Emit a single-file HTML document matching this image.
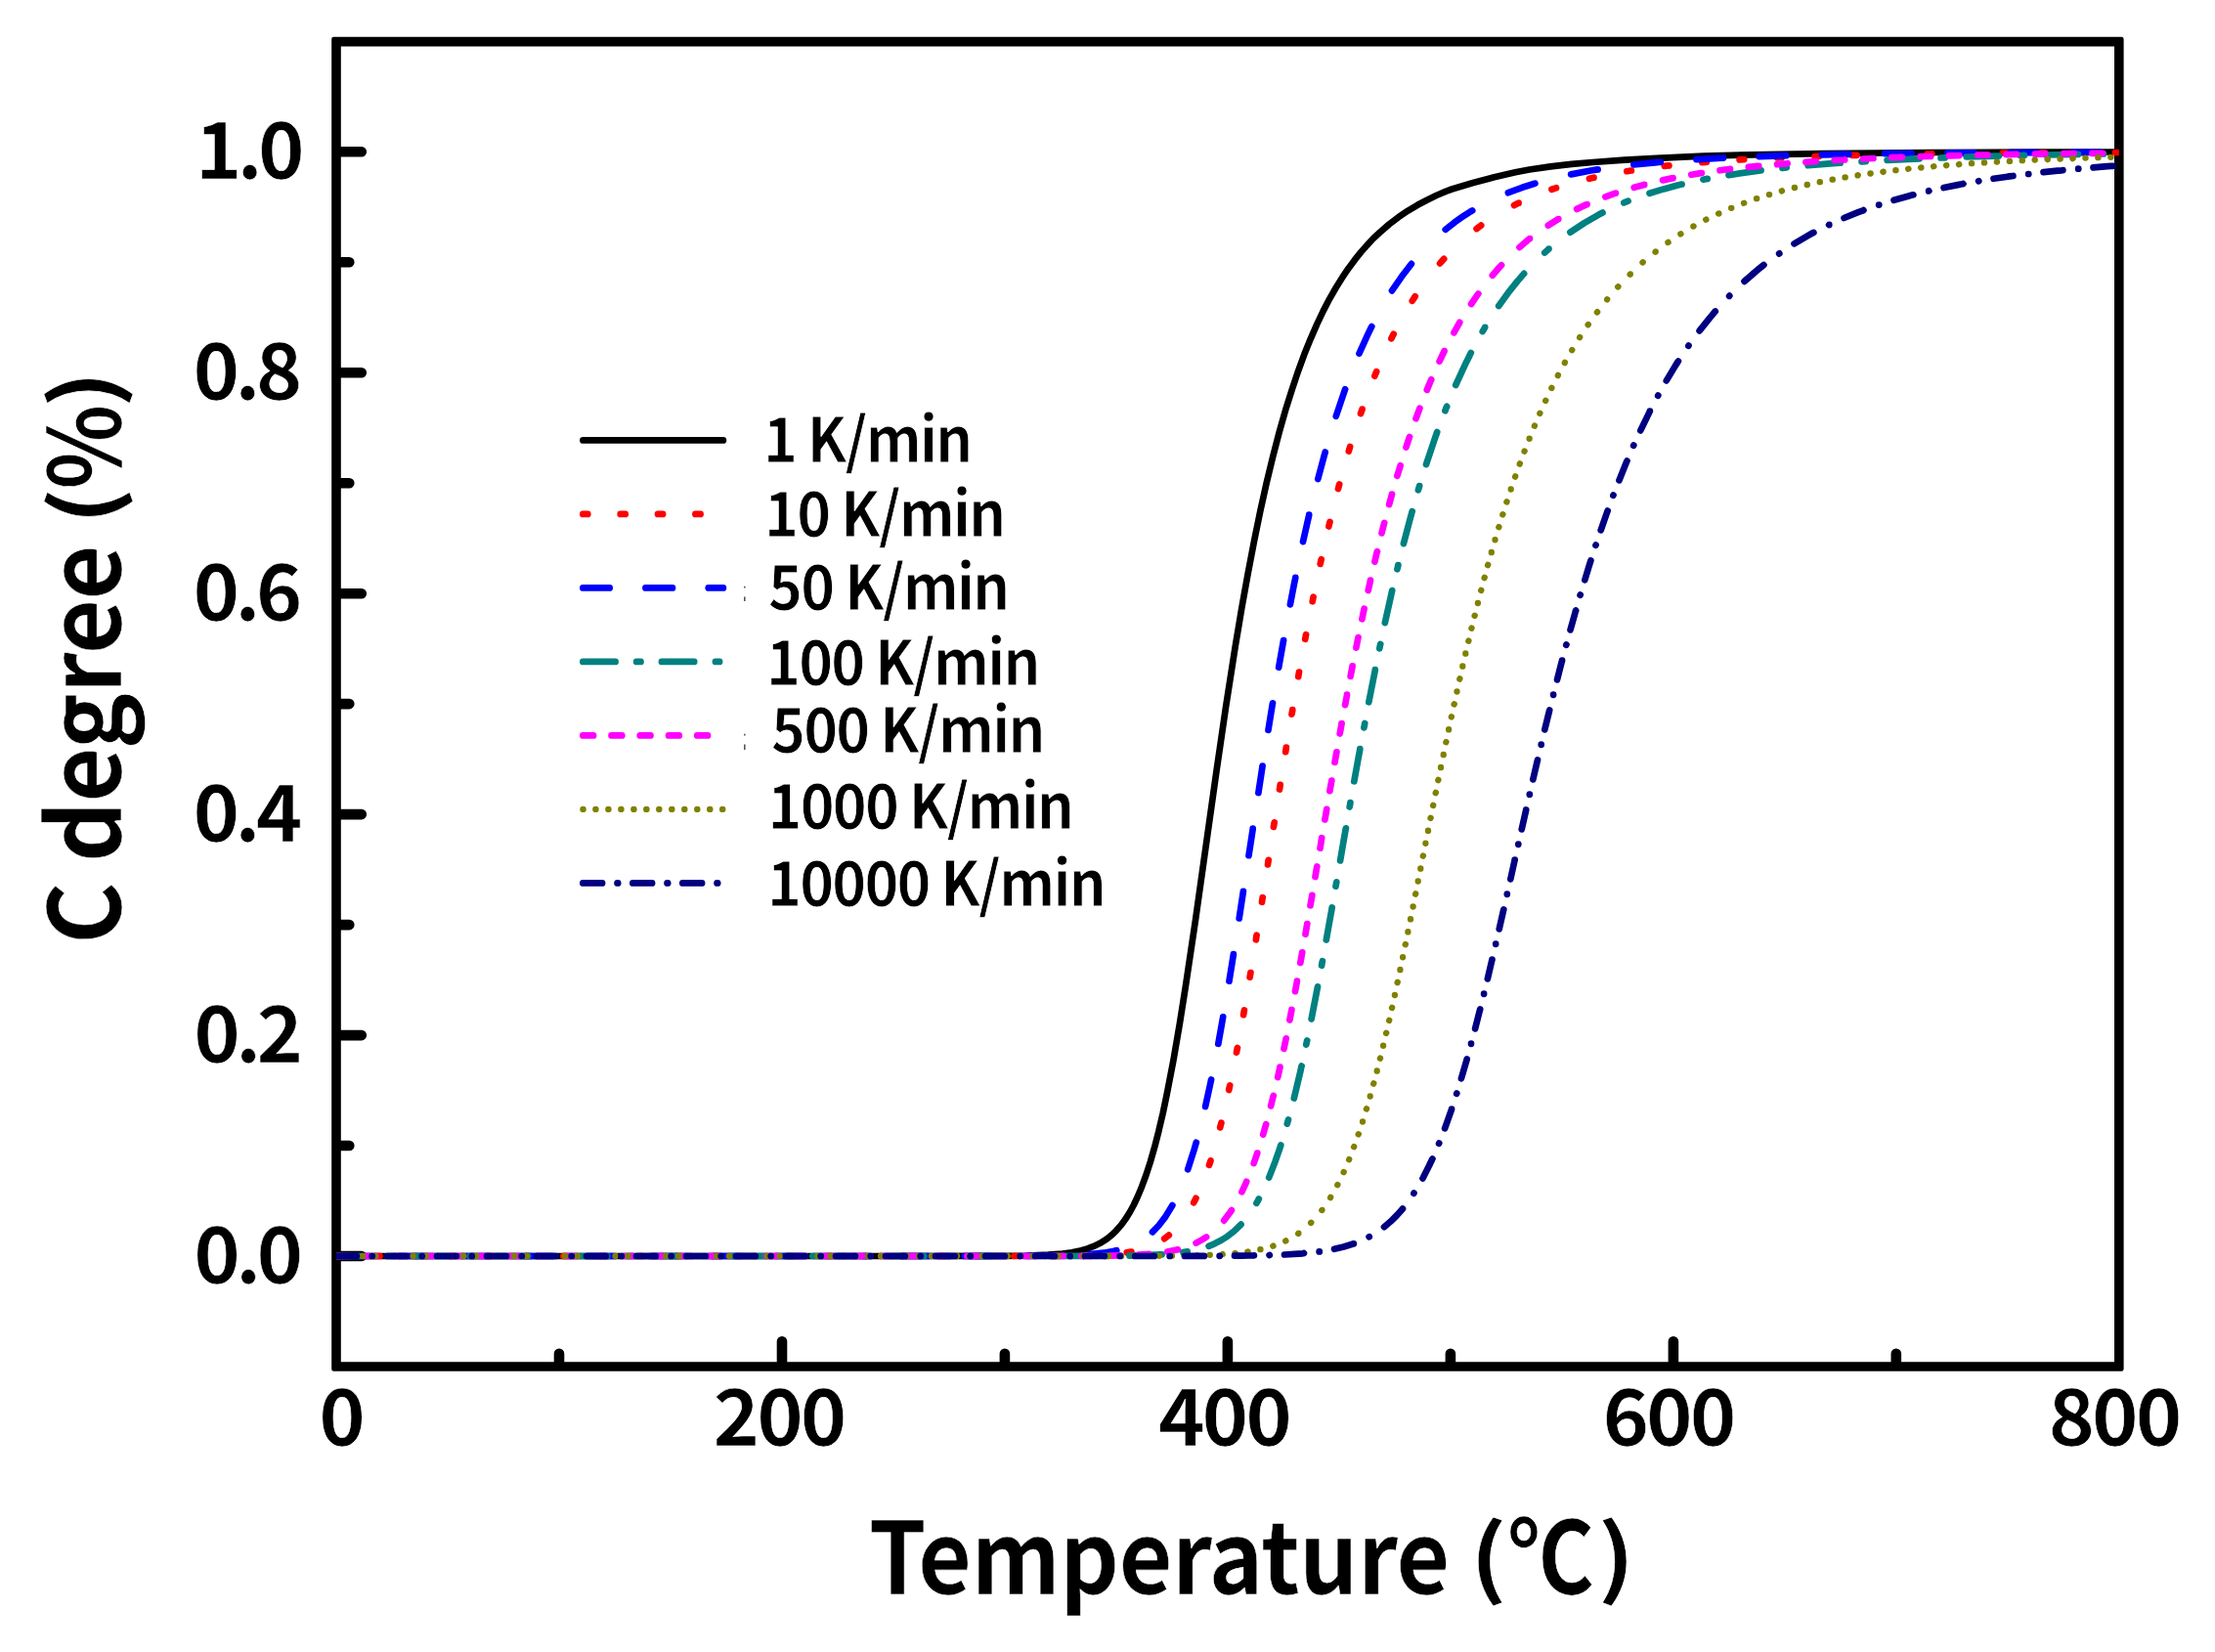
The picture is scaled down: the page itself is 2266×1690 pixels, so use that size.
<!DOCTYPE html>
<html lang="en"><head><meta charset="utf-8"><title>C degree vs Temperature</title>
<style>html,body{margin:0;padding:0;background:#fff}body{width:2266px;height:1690px;overflow:hidden}svg{display:block}text{font-family:"Noto Sans CJK SC", "Liberation Sans", sans-serif;font-weight:bold;fill:#000}</style></head><body>
<svg width="2266" height="1690" viewBox="0 0 2266 1690">
<rect width="2266" height="1690" fill="#fff"/>
<defs><clipPath id="plot"><rect x="344.0" y="42.6" width="1823.8" height="1355.4"/></clipPath></defs>
<path d="M341.4 37.8H2170.4Q2172.6 37.8 2172.6 40.0V1400.6Q2172.6 1402.8 2170.4 1402.8H341.4Q339.2 1402.8 339.2 1400.6V40.0Q339.2 37.8 341.4 37.8ZM348.8 47.4V1393.2H2163.0V47.4Z" fill="#000" fill-rule="evenodd"/>
<path d="M572.0 1396.0 V1384.7 M800.0 1396.0 V1372.2 M1027.9 1396.0 V1384.7 M1255.9 1396.0 V1372.2 M1483.9 1396.0 V1384.7 M1711.9 1396.0 V1372.2 M1939.8 1396.0 V1384.7 M346.0 1285.0 H369.8 M346.0 1172.0 H357.3 M346.0 1059.1 H369.8 M346.0 946.1 H357.3 M346.0 833.1 H369.8 M346.0 720.1 H357.3 M346.0 607.2 H369.8 M346.0 494.2 H357.3 M346.0 381.2 H369.8 M346.0 268.3 H357.3 M346.0 155.3 H369.8" fill="none" stroke="#000" stroke-width="10.6" stroke-linecap="round"/>
<g clip-path="url(#plot)" fill="none" stroke-width="6.7" stroke-linejoin="round" stroke-linecap="round">
<path d="M344.6 1285.0L884.9 1285.0L1029.2 1284.8L1050.8 1284.5L1072.4 1283.7L1086.8 1282.5L1096.5 1281.2L1106.1 1279.2L1112.5 1277.4L1118.9 1274.9L1125.4 1271.8L1129.7 1269.2L1133.9 1266.2L1138.2 1262.6L1142.5 1258.3L1146.8 1253.4L1151.1 1247.6L1155.4 1240.8L1159.7 1233.0L1163.9 1224.0L1168.2 1213.7L1172.5 1202.0L1176.8 1188.7L1181.1 1173.8L1185.4 1157.1L1189.7 1138.7L1193.9 1118.5L1200.4 1084.9L1206.8 1047.6L1213.2 1007.1L1222.9 942.0L1244.5 788.7L1254.1 723.1L1263.7 661.6L1270.1 623.2L1276.6 587.2L1283.0 553.6L1289.4 522.4L1295.8 493.5L1302.3 466.8L1308.7 442.2L1315.1 419.6L1321.6 398.9L1328.0 379.8L1334.4 362.3L1340.9 346.3L1347.3 331.6L1353.7 318.1L1360.1 305.8L1366.6 294.5L1373.0 284.2L1379.4 274.7L1385.9 265.9L1392.3 257.9L1398.7 250.6L1405.1 243.8L1411.6 237.7L1421.2 229.4L1430.8 222.1L1440.4 215.6L1450.1 209.8L1459.7 204.7L1469.3 200.0L1478.9 195.9L1485.3 193.5L1507.0 187.0L1528.6 181.3L1550.2 176.3L1564.6 173.5L1586.2 170.4L1607.8 167.9L1629.4 166.0L1661.8 163.7L1694.3 161.8L1742.9 159.7L1791.5 158.3L1864.4 157.1L1973.7 156.0L2083.0 155.6L2156.0 155.5L2165.6 155.5L2167.5 155.5L2168.4 155.5L2168.4 155.5" stroke="#000000"/>
<path d="M345.6 1285.0L350.2 1285.0M384.0 1285.0L387.8 1285.0L388.6 1285.0M422.5 1285.0L426.5 1285.0L427.1 1285.0M460.9 1285.0L465.3 1285.0L465.5 1285.0M499.3 1285.0L502.9 1285.0L503.9 1285.0M537.8 1285.0L541.7 1285.0L542.4 1285.0M576.2 1285.0L580.4 1285.0L580.8 1285.0M614.7 1285.0L619.2 1285.0L619.3 1285.0M653.1 1285.0L656.8 1285.0L657.7 1285.0M691.5 1285.0L695.5 1285.0L696.1 1285.0M730.0 1285.0L734.3 1285.0L734.6 1285.0M768.4 1285.0L771.9 1285.0L773.0 1285.0M806.8 1285.0L810.7 1285.0L811.4 1285.0M845.3 1285.0L849.4 1285.0L849.9 1285.0M883.7 1285.0L888.2 1285.0L888.3 1285.0M922.1 1285.0L925.8 1285.0L926.7 1285.0M960.6 1285.0L964.6 1285.0L965.2 1285.0M999.0 1285.0L1003.3 1285.0L1003.6 1285.0M1037.4 1285.0L1041.7 1285.0L1042.0 1285.0L1042.0 1285.0M1075.9 1284.9L1080.1 1284.9L1080.4 1284.8L1080.5 1284.8M1114.3 1284.3L1118.6 1284.1L1118.8 1284.1L1118.9 1284.1M1152.8 1281.2L1157.0 1280.5L1157.3 1280.5L1157.4 1280.5M1191.2 1267.1L1195.4 1263.9L1195.7 1263.7L1195.8 1263.6M1221.2 1230.3L1223.1 1226.6L1223.5 1225.7L1223.5 1225.7M1237.0 1191.9L1238.3 1188.1L1238.5 1187.3M1248.2 1153.4L1249.0 1150.2L1249.3 1149.1L1249.4 1148.8M1257.2 1115.0L1258.0 1111.1L1258.2 1110.4M1265.0 1076.6L1265.8 1072.2L1265.9 1072.0M1272.1 1038.1L1272.9 1033.5M1278.6 999.7L1279.2 996.2L1279.4 995.1L1279.4 995.1M1284.9 961.3L1285.4 957.7L1285.6 956.7M1291.0 922.8L1291.5 919.3L1291.7 918.2M1297.0 884.4L1297.5 880.7L1297.7 879.8M1302.9 845.9L1303.5 842.3L1303.7 841.3M1309.0 807.5L1309.6 803.8L1309.7 802.9M1315.2 769.1L1315.7 765.7L1315.9 764.6L1315.9 764.5M1321.5 730.6L1322.1 727.3L1322.3 726.3L1322.3 726.0M1328.2 692.2L1329.0 687.6M1335.2 653.8L1336.1 649.2L1336.1 649.2M1342.7 615.3L1343.5 611.2L1343.6 610.7M1350.7 576.9L1351.5 573.0L1351.7 572.3M1359.4 538.5L1360.2 535.0L1360.5 533.9M1369.0 500.0L1370.2 495.4M1379.8 461.6L1381.0 457.4L1381.1 457.0M1392.0 423.1L1393.3 419.5L1393.6 418.7L1393.6 418.5M1406.3 384.7L1408.2 380.1M1423.4 346.3L1425.3 342.5L1425.7 341.7M1444.8 307.8L1447.6 303.4L1447.7 303.2M1473.1 269.4L1475.9 266.2L1476.8 265.2L1477.1 264.9L1477.2 264.8M1510.6 234.0L1514.8 230.9L1515.1 230.7L1515.2 230.6M1549.0 210.0L1553.3 207.8L1553.5 207.7L1553.6 207.7M1587.4 193.8L1591.7 192.4L1592.0 192.3L1592.0 192.3M1625.9 182.8L1630.1 181.8L1630.4 181.7L1630.5 181.7M1664.3 175.2L1668.6 174.5L1668.9 174.5L1668.9 174.5M1702.8 169.9L1707.0 169.4L1707.3 169.4L1707.4 169.4M1741.2 166.1L1745.5 165.8L1745.7 165.7L1745.8 165.7M1779.6 163.4L1783.9 163.1L1784.2 163.1L1784.2 163.1M1818.1 161.4L1822.3 161.2L1822.6 161.2L1822.7 161.2M1856.5 160.0L1860.8 159.8L1861.0 159.8L1861.1 159.8M1894.9 158.9L1899.2 158.8L1899.5 158.8L1899.5 158.8M1933.4 158.1L1937.6 158.0L1937.9 158.0L1938.0 158.0M1971.8 157.5L1976.1 157.5L1976.4 157.4L1976.4 157.4M2010.2 157.0L2014.5 157.0L2014.8 157.0L2014.8 157.0M2048.7 156.7L2053.0 156.7L2053.2 156.7L2053.3 156.7M2087.1 156.4L2091.4 156.4L2091.7 156.4L2091.7 156.4M2125.6 156.2L2129.8 156.2L2130.1 156.2L2130.2 156.2M2164.0 156.0L2168.3 156.0L2168.5 156.0L2168.6 156.0" stroke="#ff0000"/>
<path d="M344.3 1285.0L364.8 1285.0L371.7 1285.0L371.8 1285.0M408.5 1285.0L429.8 1285.0L436.0 1285.0M472.7 1285.0L493.6 1285.0L500.2 1285.0M536.9 1285.0L557.5 1285.0L564.3 1285.0L564.4 1285.0M601.1 1285.0L622.4 1285.0L628.6 1285.0M665.3 1285.0L686.3 1285.0L692.8 1285.0M729.5 1285.0L750.1 1285.0L756.9 1285.0L757.0 1285.0M793.7 1285.0L815.1 1285.0L821.2 1285.0M857.9 1285.0L878.9 1285.0L885.4 1285.0M922.2 1285.0L942.7 1285.0L949.6 1285.0L949.7 1285.0M986.4 1285.0L1007.7 1285.0L1013.9 1285.0M1050.6 1284.9L1072.1 1284.7L1076.4 1284.7L1077.7 1284.6L1078.1 1284.6M1114.8 1283.2L1129.2 1281.7L1138.8 1280.0L1141.7 1279.4L1142.3 1279.2L1142.3 1279.2M1179.0 1260.4L1185.4 1253.7L1191.8 1245.4L1198.2 1235.1L1199.1 1233.5L1199.4 1233.0L1199.4 1233.0M1215.2 1196.3L1221.6 1176.2L1223.5 1169.6L1223.8 1168.8M1233.1 1132.0L1237.3 1112.9L1238.6 1106.9L1239.0 1104.9L1239.1 1104.5M1246.3 1067.8L1250.5 1044.3L1251.1 1040.9L1251.2 1040.3M1257.5 1003.6L1261.7 977.5L1261.9 976.4L1261.9 976.1M1267.7 939.4L1271.9 911.9M1277.5 875.2L1280.4 856.4L1281.7 848.0L1281.7 847.7M1287.4 811.0L1291.6 783.6L1291.6 783.5M1297.5 746.8L1301.7 720.7L1302.0 719.3M1308.2 682.6L1312.5 658.4L1313.1 655.1L1313.1 655.1M1319.9 618.4L1324.1 596.7L1325.0 592.4L1325.3 591.0L1325.3 590.9M1333.0 554.2L1337.3 535.2L1339.2 526.9L1339.2 526.7M1348.3 490.0L1354.7 466.1L1355.6 463.0L1355.7 462.5M1366.8 425.8L1373.2 406.7L1376.0 398.5L1376.1 398.3M1390.5 361.6L1400.1 340.4L1403.0 334.6L1403.3 334.1M1424.0 297.4L1433.7 283.3L1443.3 270.7L1443.9 269.9L1443.9 269.9M1478.7 234.8L1488.3 227.3L1497.9 220.6L1504.3 216.5L1506.2 215.4M1542.9 197.2L1557.3 191.8L1566.9 188.7L1569.8 187.8L1570.4 187.6L1570.4 187.6M1607.1 178.4L1628.7 174.3L1633.0 173.6L1634.3 173.4L1634.5 173.4L1634.6 173.4M1671.3 168.5L1692.9 166.3L1697.2 165.9L1698.5 165.8L1698.7 165.8L1698.8 165.8M1735.5 163.1L1757.1 161.9L1761.4 161.7L1762.7 161.6L1762.9 161.6L1763.0 161.6M1799.7 160.1L1821.3 159.4L1825.6 159.2L1826.9 159.2L1827.1 159.2L1827.2 159.2M1863.9 158.3L1885.5 157.9L1889.8 157.8L1891.1 157.8L1891.4 157.8M1928.1 157.2L1949.7 157.0L1954.0 156.9L1955.3 156.9L1955.6 156.9L1955.6 156.9M1992.3 156.6L2013.9 156.4L2018.2 156.4L2019.5 156.4L2019.8 156.4L2019.8 156.4M2056.6 156.2L2078.1 156.1L2082.4 156.0L2083.7 156.0L2084.0 156.0L2084.1 156.0M2120.8 155.9L2142.3 155.8L2146.6 155.8L2147.9 155.8L2148.2 155.8L2148.3 155.8" stroke="#0000ff"/>
<path d="M344.9 1285.0L375.7 1285.0L378.0 1285.0M399.8 1285.0L404.1 1285.0M426.0 1285.0L457.7 1285.0L459.1 1285.0M480.9 1285.0L485.1 1285.0L485.2 1285.0M507.0 1285.0L538.7 1285.0L540.1 1285.0M561.9 1285.0L566.0 1285.0L566.2 1285.0M588.1 1285.0L619.6 1285.0L621.2 1285.0M643.0 1285.0L647.0 1285.0L647.3 1285.0M669.1 1285.0L700.5 1285.0L702.2 1285.0M724.0 1285.0L727.9 1285.0L728.3 1285.0M750.2 1285.0L781.5 1285.0L783.3 1285.0M805.1 1285.0L808.8 1285.0L809.4 1285.0M831.3 1285.0L862.4 1285.0L864.4 1285.0M886.2 1285.0L889.8 1285.0L890.5 1285.0M912.3 1285.0L943.3 1285.0L945.4 1285.0M967.2 1285.0L970.7 1285.0L971.5 1285.0M993.4 1285.0L1024.3 1285.0L1026.5 1285.0M1048.3 1285.0L1052.5 1285.0L1052.6 1285.0M1074.4 1285.0L1106.8 1284.9L1107.4 1284.9L1107.5 1284.9M1129.3 1284.9L1133.6 1284.8L1133.6 1284.8M1155.5 1284.6L1177.1 1283.9L1186.7 1283.4L1188.6 1283.3M1210.4 1281.1L1214.7 1280.4L1214.7 1280.4M1236.6 1274.8L1243.0 1272.1L1249.4 1268.8L1255.8 1264.7L1262.3 1259.7L1268.7 1253.5L1269.6 1252.6M1285.4 1230.8L1287.3 1227.5L1287.8 1226.5M1298.2 1204.6L1304.6 1188.2L1308.9 1175.8L1310.2 1171.9L1310.3 1171.5M1316.8 1149.7L1318.0 1145.4M1323.8 1123.6L1330.2 1096.7L1331.4 1091.0L1331.6 1090.5M1336.3 1068.7L1337.1 1064.6L1337.2 1064.4M1341.6 1042.5L1348.0 1009.4M1352.1 987.6L1352.6 984.6L1352.8 983.6L1352.9 983.3M1356.8 961.5L1361.1 937.5L1362.4 930.3L1362.6 928.7L1362.7 928.4M1366.5 906.6L1367.1 903.2L1367.3 902.3M1371.1 880.4L1375.3 855.9L1376.6 848.6L1376.9 847.3M1380.7 825.5L1381.3 822.2L1381.4 821.2M1385.3 799.3L1389.6 775.6L1390.9 768.6L1391.3 766.4L1391.3 766.2M1395.4 744.4L1396.0 741.3L1396.1 740.3L1396.2 740.1M1400.3 718.3L1406.8 685.6L1406.8 685.2M1411.3 663.4L1412.1 659.3L1412.2 659.1M1416.8 637.2L1423.3 608.3L1424.1 604.5L1424.2 604.1M1429.4 582.3L1430.2 578.9L1430.4 578.1L1430.4 578.0M1435.9 556.2L1442.3 531.8L1444.2 524.8L1444.6 523.4L1444.7 523.1M1450.9 501.3L1452.2 497.1L1452.2 497.0M1459.0 475.1L1468.6 446.5L1469.9 443.0L1470.1 442.2L1470.2 442.0M1478.4 420.2L1479.6 417.0L1480.0 416.0L1480.1 415.9M1489.2 394.0L1498.8 373.1L1503.1 364.4L1504.3 361.9L1504.7 361.1L1504.8 360.9M1516.7 339.1L1518.6 335.9L1519.2 334.9L1519.2 334.8M1533.2 313.0L1542.8 299.7L1552.4 287.6L1558.9 280.1L1559.1 279.9M1580.2 258.5L1584.5 254.8L1584.5 254.7M1606.4 237.6L1620.8 228.1L1635.2 219.8L1639.5 217.6L1639.5 217.6M1661.3 207.4L1665.6 205.7L1665.6 205.7M1687.5 197.8L1701.9 193.4L1716.3 189.5L1720.5 188.5L1720.6 188.5M1742.4 183.7L1746.6 182.9L1746.7 182.9M1768.5 179.1L1800.9 174.4L1801.5 174.3L1801.6 174.3M1823.4 171.8L1827.7 171.3L1827.7 171.3M1849.6 169.2L1882.0 166.7L1882.5 166.7L1882.7 166.7M1904.5 165.3L1908.7 165.1L1908.8 165.1M1930.6 163.9L1963.0 162.4L1963.6 162.3L1963.7 162.3M1985.5 161.5L1989.8 161.3L1989.8 161.3M2011.7 160.5L2044.1 159.6L2044.7 159.6L2044.8 159.6M2066.6 159.0L2070.9 158.9L2070.9 158.9M2092.8 158.5L2125.2 157.9L2125.7 157.9L2125.9 157.9M2147.7 157.5L2151.9 157.5L2152.0 157.5" stroke="#008080"/>
<path d="M344.6 1285.0L353.7 1285.0L355.1 1285.0M373.9 1285.0L383.4 1285.0L384.4 1285.0M403.2 1285.0L413.0 1285.0L413.7 1285.0M432.5 1285.0L442.6 1285.0L443.0 1285.0M461.8 1285.0L471.1 1285.0L472.3 1285.0M491.1 1285.0L500.8 1285.0L501.6 1285.0M520.4 1285.0L530.4 1285.0L530.9 1285.0M549.7 1285.0L558.9 1285.0L560.2 1285.0M579.0 1285.0L588.5 1285.0L589.5 1285.0M608.3 1285.0L618.2 1285.0L618.8 1285.0M637.6 1285.0L647.8 1285.0L648.1 1285.0M666.9 1285.0L676.3 1285.0L677.4 1285.0M696.2 1285.0L705.9 1285.0L706.7 1285.0M725.5 1285.0L735.6 1285.0L736.0 1285.0M754.8 1285.0L764.1 1285.0L765.3 1285.0M784.1 1285.0L793.7 1285.0L794.6 1285.0M813.4 1285.0L823.3 1285.0L823.9 1285.0M842.7 1285.0L851.8 1285.0L853.2 1285.0M872.0 1285.0L881.5 1285.0L882.5 1285.0M901.3 1285.0L911.1 1285.0L911.8 1285.0M930.6 1285.0L940.8 1285.0L941.1 1285.0M959.9 1285.0L969.3 1285.0L970.4 1285.0M989.2 1285.0L998.9 1285.0L999.7 1285.0M1018.5 1285.0L1029.0 1285.0M1047.8 1285.0L1057.4 1285.0L1058.3 1285.0L1058.3 1285.0M1077.1 1285.0L1086.7 1284.9L1087.5 1284.9L1087.6 1284.9M1106.4 1284.9L1116.0 1284.8L1116.8 1284.8L1116.9 1284.8M1135.7 1284.6L1145.2 1284.3L1146.1 1284.3L1146.2 1284.3M1165.0 1283.6L1174.6 1282.9L1175.4 1282.8L1175.5 1282.8M1194.3 1280.5L1203.9 1278.5L1204.7 1278.3L1204.8 1278.3M1223.6 1271.6L1230.0 1268.1L1232.8 1266.3L1234.1 1265.5M1252.2 1248.6L1258.6 1240.0L1259.9 1238.1M1270.4 1219.3L1274.7 1210.1L1275.2 1208.8M1282.7 1190.0L1285.5 1181.9L1286.1 1180.1L1286.3 1179.6L1286.3 1179.5M1292.2 1160.7L1295.0 1150.7L1295.2 1150.2M1300.1 1131.4L1302.0 1123.8L1302.6 1121.4L1302.8 1120.9M1307.2 1102.1L1309.1 1093.6L1309.5 1091.7L1309.5 1091.6M1313.5 1072.8L1315.4 1063.6L1315.7 1062.3M1319.4 1043.5L1321.3 1033.7L1321.4 1033.0M1325.0 1014.2L1326.9 1004.0L1326.9 1003.7M1330.3 984.9L1332.2 974.4M1335.5 955.6L1336.7 948.4L1337.3 945.1M1340.5 926.3L1341.8 919.0L1342.2 916.6L1342.3 915.8M1345.5 897.0L1346.7 889.7L1347.1 887.3L1347.3 886.5M1350.5 867.7L1351.7 860.4L1352.1 857.9L1352.2 857.2M1355.4 838.4L1356.7 831.1L1357.2 827.9M1360.4 809.1L1361.7 801.9L1362.3 798.6M1365.5 779.8L1367.4 769.3M1370.7 750.5L1372.6 740.1L1372.6 740.0M1376.1 721.2L1378.0 711.2L1378.0 710.7M1381.6 691.9L1383.5 682.0L1383.6 681.4M1387.4 662.6L1389.2 653.3L1389.5 652.1M1393.4 633.3L1395.2 624.4L1395.5 623.1L1395.6 622.8M1399.7 604.0L1401.6 595.5L1402.0 593.6L1402.0 593.5M1406.4 574.7L1408.2 566.8L1408.8 564.3L1408.9 564.2M1413.5 545.4L1415.4 537.9L1416.0 535.6L1416.2 534.9M1421.1 516.1L1424.0 505.7L1424.0 505.6M1429.4 486.8L1432.3 477.4L1432.5 476.5L1432.6 476.3M1438.5 457.5L1441.3 448.9L1441.9 447.2L1442.0 447.0M1448.5 428.2L1451.4 420.5L1452.2 418.2L1452.4 417.7M1459.8 398.9L1464.0 388.7L1464.2 388.4M1472.6 369.6L1476.8 360.7L1477.4 359.5L1477.6 359.2L1477.6 359.1M1487.4 340.3L1491.7 332.7L1493.0 330.5L1493.3 329.8M1505.1 311.0L1511.5 301.7L1512.3 300.5M1526.8 281.7L1533.2 274.3L1535.1 272.2L1536.0 271.2L1536.0 271.2M1554.5 253.0L1564.0 244.8L1564.9 244.1L1565.0 244.1M1583.8 230.6L1593.4 224.6L1594.2 224.0L1594.3 224.0M1613.1 213.9L1622.7 209.4L1623.5 209.0L1623.6 209.0M1642.4 201.3L1651.9 197.9L1652.8 197.6L1652.9 197.6M1671.7 191.8L1681.3 189.2L1682.1 188.9L1682.2 188.9M1701.0 184.4L1710.5 182.4L1711.4 182.2L1711.5 182.2M1730.3 178.7L1739.9 177.1L1740.7 177.0L1740.8 177.0M1759.5 174.3L1769.1 173.0L1770.0 172.9L1770.0 172.9M1788.8 170.8L1798.4 169.8L1799.3 169.8L1799.3 169.8M1818.1 168.1L1827.8 167.3L1828.6 167.2L1828.6 167.2M1847.4 165.8L1857.0 165.2L1857.9 165.1L1857.9 165.1M1876.7 164.0L1886.3 163.5L1887.2 163.4L1887.2 163.4M1906.0 162.5L1915.6 162.0L1916.5 162.0L1916.5 162.0M1935.3 161.2L1944.9 160.9L1945.8 160.9L1945.8 160.8M1964.6 160.2L1974.3 159.9L1975.1 159.9L1975.1 159.9M1993.9 159.4L2003.5 159.1L2004.4 159.1L2004.4 159.1M2023.2 158.7L2032.8 158.5L2033.7 158.5L2033.7 158.5M2052.5 158.1L2062.1 157.9L2063.0 157.9L2063.0 157.9M2081.8 157.6L2091.4 157.4L2092.3 157.4L2092.3 157.4M2111.1 157.2L2120.8 157.1L2121.6 157.1L2121.6 157.1M2140.4 156.9L2150.0 156.8L2150.9 156.8L2150.9 156.8" stroke="#ff00ff"/>
<path d="M344.8 1285.0L345.0 1285.0M357.7 1285.0L357.9 1285.0M370.7 1285.0L370.9 1285.0M383.6 1285.0L383.8 1285.0M396.6 1285.0L396.8 1285.0M409.5 1285.0L409.7 1285.0M422.4 1285.0L422.6 1285.0M435.4 1285.0L435.6 1285.0M448.3 1285.0L448.5 1285.0M461.3 1285.0L461.5 1285.0M474.2 1285.0L474.4 1285.0M487.1 1285.0L487.3 1285.0M500.1 1285.0L500.3 1285.0M513.0 1285.0L513.2 1285.0M525.9 1285.0L526.1 1285.0M538.9 1285.0L539.1 1285.0M551.8 1285.0L552.0 1285.0M564.8 1285.0L565.0 1285.0M577.7 1285.0L577.9 1285.0M590.6 1285.0L590.8 1285.0M603.6 1285.0L603.8 1285.0M616.5 1285.0L616.7 1285.0M629.5 1285.0L629.7 1285.0M642.4 1285.0L642.6 1285.0M655.3 1285.0L655.5 1285.0M668.3 1285.0L668.5 1285.0M681.2 1285.0L681.4 1285.0M694.2 1285.0L694.4 1285.0M707.1 1285.0L707.3 1285.0M720.0 1285.0L720.2 1285.0M733.0 1285.0L733.2 1285.0M745.9 1285.0L746.1 1285.0M758.8 1285.0L759.0 1285.0M771.8 1285.0L772.0 1285.0M784.7 1285.0L784.9 1285.0M797.7 1285.0L797.9 1285.0M810.6 1285.0L810.8 1285.0M823.5 1285.0L823.7 1285.0M836.5 1285.0L836.7 1285.0M849.4 1285.0L849.6 1285.0M862.4 1285.0L862.6 1285.0M875.3 1285.0L875.5 1285.0M888.2 1285.0L888.4 1285.0M901.2 1285.0L901.4 1285.0M914.1 1285.0L914.3 1285.0M927.1 1285.0L927.3 1285.0M940.0 1285.0L940.2 1285.0M952.9 1285.0L953.1 1285.0M965.9 1285.0L966.1 1285.0M978.8 1285.0L979.0 1285.0M991.8 1285.0L992.0 1285.0M1004.7 1285.0L1004.9 1285.0M1017.6 1285.0L1017.8 1285.0M1030.6 1285.0L1030.7 1285.0L1030.8 1285.0M1043.5 1285.0L1043.7 1285.0L1043.7 1285.0M1056.4 1285.0L1056.6 1285.0M1069.4 1285.0L1069.6 1285.0M1082.3 1285.0L1082.5 1285.0L1082.5 1285.0M1095.3 1285.0L1095.4 1285.0L1095.5 1285.0M1108.2 1285.0L1108.4 1285.0L1108.4 1285.0M1121.1 1285.0L1121.3 1285.0M1134.1 1285.0L1134.3 1285.0M1147.0 1285.0L1147.2 1285.0L1147.2 1285.0M1160.0 1284.9L1160.1 1284.9L1160.2 1284.9M1172.9 1284.9L1173.1 1284.9M1185.8 1284.8L1186.0 1284.8M1198.8 1284.7L1198.9 1284.7L1199.0 1284.7M1211.7 1284.5L1211.9 1284.5L1211.9 1284.5M1224.7 1284.3L1224.8 1284.3L1224.9 1284.3M1237.6 1283.8L1237.8 1283.8M1250.5 1283.2L1250.7 1283.1M1263.5 1282.1L1263.6 1282.1L1263.7 1282.1M1276.4 1280.6L1276.6 1280.5L1276.6 1280.5M1289.3 1278.2L1289.5 1278.2L1289.5 1278.1M1302.3 1274.7L1302.5 1274.6M1315.2 1269.5L1315.4 1269.4L1315.4 1269.4M1328.2 1261.9L1328.3 1261.7L1328.4 1261.7M1341.1 1251.0L1341.3 1250.8L1341.3 1250.8M1352.3 1238.0L1352.4 1237.8L1352.5 1237.8M1361.1 1225.1L1361.2 1224.9M1368.3 1212.2L1368.4 1212.0M1374.6 1199.2L1374.7 1199.0M1380.1 1186.3L1380.2 1186.1M1385.1 1173.3L1385.2 1173.1M1389.7 1160.4L1389.8 1160.2M1394.0 1147.5L1394.0 1147.3M1397.9 1134.5L1398.0 1134.3M1401.7 1121.6L1401.7 1121.4M1405.2 1108.6L1405.3 1108.4M1408.7 1095.7L1408.7 1095.5M1411.9 1082.8L1412.0 1082.6M1415.1 1069.8L1415.1 1069.6M1418.1 1056.9L1418.2 1056.7M1421.1 1044.0L1421.2 1043.8M1424.0 1031.0L1424.1 1030.8M1426.9 1018.1L1426.9 1017.9M1429.6 1005.1L1429.7 1004.9M1432.4 992.2L1432.4 992.0M1435.1 979.3L1435.1 979.1M1437.7 966.3L1437.8 966.1M1440.4 953.4L1440.4 953.2M1443.0 940.4L1443.0 940.2M1445.6 927.5L1445.6 927.3M1448.1 914.6L1448.2 914.4M1450.7 901.6L1450.7 901.4M1453.3 888.7L1453.3 888.5M1455.8 875.7L1455.9 875.5M1458.4 862.8L1458.4 862.6M1461.0 849.9L1461.0 849.7M1463.5 836.9L1463.6 836.7M1466.1 824.0L1466.2 823.8M1468.7 811.1L1468.8 810.9M1471.3 798.1L1471.4 797.9M1474.0 785.2L1474.0 785.0M1476.7 772.2L1476.7 772.0M1479.3 759.3L1479.4 759.1M1482.1 746.4L1482.1 746.2M1484.8 733.4L1484.9 733.2M1487.6 720.5L1487.7 720.3M1490.5 707.5L1490.5 707.3M1493.3 694.6L1493.4 694.4M1496.3 681.7L1496.3 681.5M1499.3 668.7L1499.3 668.5M1502.3 655.8L1502.4 655.6M1505.4 642.8L1505.5 642.6M1508.6 629.9L1508.7 629.7M1511.9 617.0L1511.9 616.8M1515.2 604.0L1515.3 603.8M1518.6 591.1L1518.7 590.9M1522.1 578.1L1522.2 577.9M1525.8 565.2L1525.8 565.0M1529.5 552.3L1529.5 552.1M1533.3 539.3L1533.4 539.1M1537.3 526.4L1537.4 526.2M1541.4 513.5L1541.5 513.3M1545.7 500.5L1545.7 500.3M1550.1 487.6L1550.2 487.4M1554.7 474.6L1554.8 474.4M1559.5 461.7L1559.6 461.5M1564.6 448.8L1564.6 448.6M1569.8 435.8L1569.9 435.6M1575.3 422.9L1575.4 422.7M1581.2 409.9L1581.3 409.7M1587.3 397.0L1587.4 396.8M1593.8 384.1L1593.9 383.9M1600.8 371.1L1600.9 370.9M1608.2 358.2L1608.3 358.0M1616.1 345.2L1616.2 345.0M1624.6 332.3L1624.8 332.1M1633.9 319.4L1634.1 319.2M1644.1 306.4L1644.2 306.2L1644.2 306.2M1655.2 293.5L1655.4 293.3L1655.4 293.3M1667.6 280.6L1667.7 280.4L1667.8 280.4M1680.5 268.5L1680.7 268.3L1680.7 268.3M1693.5 257.7L1693.6 257.5L1693.7 257.5M1706.4 248.0L1706.6 247.9M1719.3 239.4L1719.5 239.3M1732.3 231.6L1732.4 231.6L1732.5 231.5M1745.2 224.7L1745.4 224.6L1745.4 224.6M1758.2 218.5L1758.3 218.4L1758.4 218.4M1771.1 212.8L1771.3 212.8M1784.0 207.8L1784.2 207.7L1784.2 207.7M1797.0 203.2L1797.1 203.2L1797.2 203.2M1809.9 199.1L1810.1 199.1L1810.1 199.1M1822.8 195.4L1823.0 195.3M1835.8 192.0L1836.0 192.0M1848.7 189.0L1848.9 189.0L1848.9 188.9M1861.7 186.2L1861.8 186.2L1861.9 186.2M1874.6 183.7L1874.8 183.7L1874.8 183.7M1887.5 181.4L1887.7 181.4M1900.5 179.4L1900.6 179.4L1900.7 179.3M1913.4 177.5L1913.6 177.5L1913.6 177.5M1926.4 175.8L1926.5 175.7L1926.6 175.7M1939.3 174.2L1939.5 174.2M1952.2 172.8L1952.4 172.7M1965.2 171.5L1965.3 171.4L1965.4 171.4M1978.1 170.3L1978.3 170.2L1978.3 170.2M1991.1 169.2L1991.2 169.1L1991.3 169.1M2004.0 168.2L2004.2 168.1M2016.9 167.2L2017.1 167.2M2029.9 166.4L2030.0 166.4L2030.1 166.4M2042.8 165.6L2043.0 165.6L2043.0 165.6M2055.8 164.9L2056.0 164.9M2068.7 164.2L2068.9 164.2M2081.6 163.6L2081.8 163.6L2081.8 163.6M2094.6 163.1L2094.7 163.0L2094.8 163.0M2107.5 162.5L2107.7 162.5L2107.7 162.5M2120.4 162.1L2120.6 162.0M2133.4 161.6L2133.6 161.6M2146.3 161.2L2146.5 161.2L2146.5 161.2M2159.3 160.8L2159.4 160.8L2159.5 160.8" stroke="#808000" stroke-width="6.3"/>
<path d="M345.0 1285.0L364.9 1285.0M380.6 1285.0L380.8 1285.0M396.0 1285.0L415.9 1285.0M431.6 1285.0L431.8 1285.0M447.0 1285.0L461.3 1285.0L465.8 1285.0L466.9 1285.0M482.6 1285.0L482.8 1285.0M498.0 1285.0L512.6 1285.0L517.1 1285.0L517.9 1285.0M533.6 1285.0L533.8 1285.0M549.0 1285.0L568.9 1285.0M584.6 1285.0L584.8 1285.0M600.0 1285.0L619.9 1285.0M635.6 1285.0L635.8 1285.0M651.0 1285.0L665.3 1285.0L669.9 1285.0L670.9 1285.0M686.6 1285.0L686.8 1285.0M702.0 1285.0L716.6 1285.0L721.2 1285.0L721.9 1285.0M737.6 1285.0L737.8 1285.0M753.0 1285.0L772.9 1285.0M788.6 1285.0L788.8 1285.0M804.0 1285.0L823.9 1285.0M839.6 1285.0L839.8 1285.0M855.0 1285.0L869.3 1285.0L873.9 1285.0L874.9 1285.0M890.6 1285.0L890.8 1285.0M906.0 1285.0L920.6 1285.0L925.2 1285.0L925.9 1285.0M941.6 1285.0L941.8 1285.0M957.0 1285.0L976.9 1285.0M992.6 1285.0L992.8 1285.0M1008.0 1285.0L1027.9 1285.0M1043.6 1285.0L1043.8 1285.0M1059.0 1285.0L1073.4 1285.0L1077.7 1285.0L1078.9 1285.0M1094.6 1285.0L1094.8 1285.0L1094.8 1285.0M1110.0 1285.0L1124.4 1285.0L1128.7 1285.0L1129.6 1285.0L1129.8 1285.0L1129.9 1285.0M1145.6 1285.0L1145.8 1285.0M1161.0 1285.0L1175.4 1285.0L1179.7 1285.0L1180.9 1285.0M1196.6 1285.0L1196.8 1285.0L1196.8 1285.0M1212.0 1284.9L1226.4 1284.9L1230.7 1284.9L1231.5 1284.9L1231.8 1284.9L1231.9 1284.9M1247.6 1284.8L1247.8 1284.8L1247.8 1284.8M1263.0 1284.7L1277.4 1284.5L1281.7 1284.5L1282.9 1284.4M1298.6 1284.1L1298.8 1284.0L1298.8 1284.0M1314.0 1283.5L1328.4 1282.6L1332.7 1282.3L1333.5 1282.2L1333.8 1282.2L1333.9 1282.1M1349.6 1280.4L1349.8 1280.4L1349.8 1280.4M1365.0 1277.8L1374.6 1275.5L1384.2 1272.5L1384.8 1272.3L1384.9 1272.3M1400.6 1265.3L1400.8 1265.2M1416.0 1255.2L1422.4 1249.8L1428.8 1243.5L1433.1 1238.7L1434.4 1237.2L1435.0 1236.5M1446.4 1220.8L1446.5 1220.6M1455.5 1205.4L1461.9 1192.8L1464.8 1186.7L1465.2 1185.8L1465.4 1185.5M1472.1 1169.8L1472.2 1169.6M1478.1 1154.4L1484.5 1136.3L1485.1 1134.6L1485.1 1134.5M1490.2 1118.8L1490.3 1118.6M1494.9 1103.4L1499.2 1088.7L1500.5 1084.2L1500.7 1083.5L1500.7 1083.5M1505.0 1067.8L1505.0 1067.6M1509.1 1052.4L1513.3 1035.8L1514.2 1032.5M1518.1 1016.8L1518.1 1016.6M1521.8 1001.4L1526.0 983.5L1526.5 981.7L1526.5 981.5M1530.2 965.8L1530.2 965.6M1533.7 950.4L1538.0 931.6L1538.3 930.5M1541.8 914.8L1541.8 914.6M1545.3 899.4L1549.5 880.4L1549.7 879.6L1549.7 879.5M1553.3 863.8L1553.3 863.6M1556.7 848.4L1561.0 829.6L1561.2 828.5M1564.8 812.8L1564.8 812.6M1568.3 797.4L1572.6 779.0L1572.9 777.8L1573.0 777.5M1576.7 761.8L1576.7 761.6M1580.3 746.4L1584.6 728.9L1585.2 726.5M1589.1 710.8L1589.1 710.6M1593.0 695.4L1597.2 678.9L1598.1 675.6L1598.1 675.5M1602.3 659.8L1602.4 659.6M1606.5 644.4L1610.8 629.1L1612.0 624.6L1612.1 624.5M1616.6 608.8L1616.7 608.6M1621.3 593.4L1625.5 579.5L1627.4 573.5M1632.5 557.8L1632.6 557.6M1637.7 542.4L1644.1 524.0L1644.7 522.5M1650.4 506.8L1650.5 506.6M1656.4 491.4L1662.8 475.5L1664.1 472.4L1664.5 471.5M1671.2 455.8L1671.3 455.6M1678.3 440.4L1687.9 420.6L1687.9 420.5M1696.2 404.8L1696.3 404.6M1704.8 389.4L1714.4 373.4L1716.3 370.4L1716.9 369.5L1716.9 369.5M1727.4 353.8L1727.5 353.6M1738.6 338.4L1748.2 326.3L1754.6 318.6L1754.8 318.5M1769.1 302.8L1769.3 302.6L1769.3 302.6M1784.5 287.9L1798.9 275.4L1803.2 272.0L1804.0 271.3L1804.3 271.1L1804.4 271.0M1820.1 259.4L1820.3 259.3M1835.5 249.3L1849.9 240.9L1854.1 238.5L1855.4 237.9M1871.1 230.0L1871.2 229.9L1871.3 229.9M1886.5 223.0L1900.9 217.2L1905.2 215.6L1906.0 215.3L1906.3 215.2L1906.4 215.1M1922.1 209.6L1922.3 209.6L1922.3 209.6M1937.5 204.8L1951.9 200.7L1956.1 199.6L1957.4 199.3M1973.1 195.4L1973.2 195.4L1973.3 195.3M1988.5 192.0L2002.9 189.1L2007.2 188.3L2008.0 188.1L2008.3 188.1L2008.4 188.0M2024.1 185.3L2024.3 185.2L2024.3 185.2M2039.5 182.8L2053.9 180.7L2058.1 180.2L2059.4 180.0M2075.1 178.0L2075.3 178.0M2090.5 176.2L2104.9 174.7L2109.2 174.3L2110.0 174.2L2110.3 174.1L2110.4 174.1M2126.1 172.7L2126.3 172.7L2126.3 172.7M2141.5 171.4L2155.9 170.2L2160.1 169.9L2161.4 169.8" stroke="#000080"/>
</g>
<g font-size="80.7" stroke="#fff" stroke-width="0.6">
<text textLength="44.61" lengthAdjust="spacingAndGlyphs" x="326.2" y="1478.9" letter-spacing="-3.0">0</text>
<text textLength="133.83" lengthAdjust="spacingAndGlyphs" x="729.6" y="1478.9" letter-spacing="-3.0">200</text>
<text textLength="133.83" lengthAdjust="spacingAndGlyphs" x="1185.0" y="1478.9" letter-spacing="-3.0">400</text>
<text textLength="133.83" lengthAdjust="spacingAndGlyphs" x="1639.5" y="1478.9" letter-spacing="-3.0">600</text>
<text textLength="133.83" lengthAdjust="spacingAndGlyphs" x="2095.5" y="1478.9" letter-spacing="-3.0">800</text>
<text textLength="107.05" lengthAdjust="spacingAndGlyphs" x="198.2" y="1312.8" letter-spacing="-4.8">0.0</text>
<text textLength="107.05" lengthAdjust="spacingAndGlyphs" x="198.2" y="1086.9" letter-spacing="-4.8">0.2</text>
<text textLength="107.05" lengthAdjust="spacingAndGlyphs" x="197.5" y="860.9" letter-spacing="-4.8">0.4</text>
<text textLength="107.05" lengthAdjust="spacingAndGlyphs" x="197.5" y="635.0" letter-spacing="-4.8">0.6</text>
<text textLength="107.05" lengthAdjust="spacingAndGlyphs" x="197.5" y="409.0" letter-spacing="-4.8">0.8</text>
<text textLength="107.05" lengthAdjust="spacingAndGlyphs" x="199.8" y="183.1" letter-spacing="-4.8">1.0</text>
</g>
<g font-size="102.6" stroke="#fff" stroke-width="0.6">
<text textLength="642.27" lengthAdjust="spacingAndGlyphs" transform="translate(888.4 1630.5) scale(0.925 1)" letter-spacing="-0.85">Temperature</text>
<text textLength="38.79" lengthAdjust="spacingAndGlyphs" transform="translate(1503.6 1625.1) scale(1.0 0.858)" letter-spacing="0">(</text>
<text textLength="102.60" lengthAdjust="spacingAndGlyphs" transform="translate(1542.5 1630.5) scale(0.86 1)" letter-spacing="0">℃</text>
<text textLength="38.79" lengthAdjust="spacingAndGlyphs" transform="translate(1633.9 1625.1) scale(1.0 0.858)" letter-spacing="0">)</text>
<text textLength="430.99" lengthAdjust="spacingAndGlyphs" transform="translate(123.7 966.0) rotate(-90) scale(0.9457 1)" letter-spacing="-1.0">C degree</text>
<text textLength="38.79" lengthAdjust="spacingAndGlyphs" transform="translate(117.8 537.0) rotate(-90) scale(1.0 0.858)" letter-spacing="0">(</text>
<text textLength="98.80" lengthAdjust="spacingAndGlyphs" transform="translate(123.7 500.6) rotate(-90) scale(0.878 1)" letter-spacing="0">%</text>
<text textLength="38.79" lengthAdjust="spacingAndGlyphs" transform="translate(117.8 417.8) rotate(-90) scale(1.0 0.858)" letter-spacing="0">)</text>
</g>
<g fill="none" stroke-width="6.9" stroke-linecap="round">
<path d="M596.5 450.4H739.8" stroke="#000000"/>
<path d="M596.4 525.9H601.2M634.8 525.9H639.6M673.1 525.9H678.0M711.5 525.9H716.5" stroke="#ff0000"/>
<path d="M596.4 601.4H623.6M660.5 601.4H687.9M724.8 601.4H739.8" stroke="#0000ff"/>
<path d="M596.4 676.9H629.5M651.2 676.9H655.4M677.0 676.9H710.1M732.0 676.9H736.0" stroke="#008080"/>
<path d="M596.4 752.4H607.0M625.6 752.4H636.2M654.8 752.4H665.4M684.1 752.4H694.7M713.3 752.4H723.9" stroke="#ff00ff"/>
<path d="M596.4 827.9H596.6M609.3 827.9H609.5M622.3 827.9H622.5M635.3 827.9H635.5M648.3 827.9H648.5M661.2 827.9H661.5M674.2 827.9H674.4M687.2 827.9H687.4M700.2 827.9H700.4M713.2 827.9H713.4M726.1 827.9H726.4M739.1 827.9H739.3" stroke="#808000" stroke-width="6.3"/>
<path d="M596.4 903.4H616.0M631.6 903.4H632.1M647.4 903.4H667.0M682.6 903.4H683.1M698.4 903.4H718.0M733.6 903.4H734.1" stroke="#000080"/>
</g>
<g font-size="63.6" letter-spacing="-1.9" stroke="#fff" stroke-width="0.8">
<text textLength="228.30" lengthAdjust="spacingAndGlyphs" transform="translate(781.0 473.1) scale(0.93 1)">1 K/min</text>
<text textLength="263.91" lengthAdjust="spacingAndGlyphs" transform="translate(782.0 549.0) scale(0.93 1)">10 K/min</text>
<text textLength="263.91" lengthAdjust="spacingAndGlyphs" transform="translate(786.0 623.7) scale(0.93 1)">50 K/min</text>
<text textLength="299.53" lengthAdjust="spacingAndGlyphs" transform="translate(784.0 700.9) scale(0.93 1)">100 K/min</text>
<text textLength="299.53" lengthAdjust="spacingAndGlyphs" transform="translate(789.0 770.0) scale(0.93 1)">500 K/min</text>
<text textLength="335.14" lengthAdjust="spacingAndGlyphs" transform="translate(785.5 848.0) scale(0.93 1)">1000 K/min</text>
<text textLength="370.77" lengthAdjust="spacingAndGlyphs" transform="translate(785.0 926.6) scale(0.93 1)">10000 K/min</text>
</g>
<path d="M761 599.8h1.6v1.6h-1.6zM761 610.5h1.6v4.6h-1.6zM761 750.8h1.6v1.6h-1.6zM761 761.5h1.6v5.5h-1.6z" fill="#555"/>
</svg></body></html>
